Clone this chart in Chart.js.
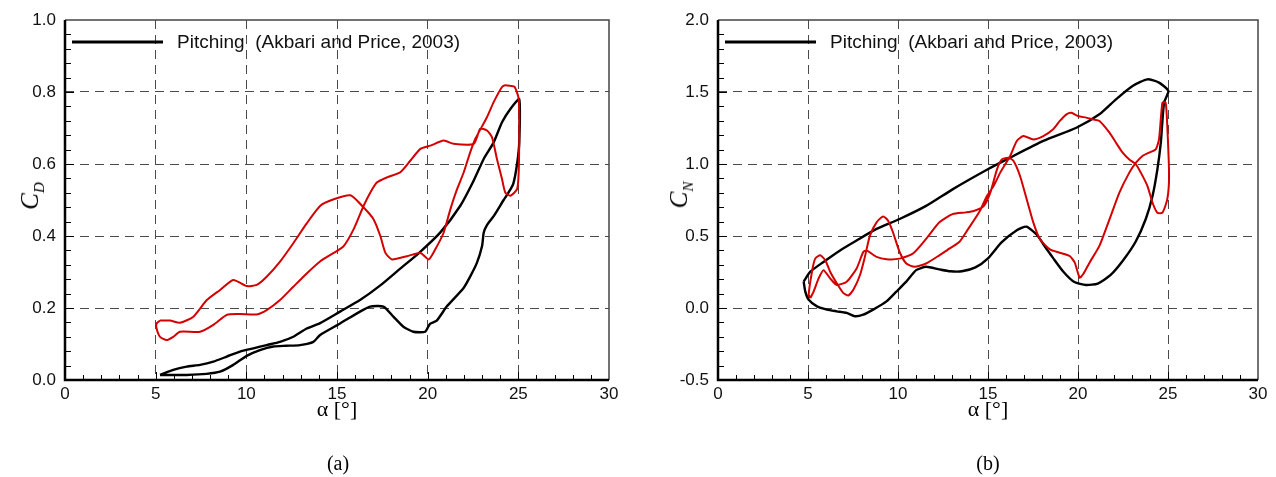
<!DOCTYPE html>
<html>
<head>
<meta charset="utf-8">
<script src="https://cdn.jsdelivr.net/npm/chart.js@4.4.1/dist/chart.umd.min.js"></script>
<style>
  body { margin: 0; background: #fff; width: 1276px; height: 477px; position: relative; overflow: hidden; }
  canvas { position: absolute; top: 0; }
  #cdChart { left: 0; }
  #cnChart { left: 638px; }
  .ytitle { position: absolute; font-family: "Liberation Serif", serif; font-style: italic; font-size: 25px;
            transform: translate(-50%, -50%) rotate(-90deg); white-space: nowrap; line-height: 1; }
  .ytitle sub { font-size: 15px; }
  .caption { position: absolute; top: 452px; font-family: "Liberation Serif", serif; font-size: 20px;
             transform: translateX(-50%); }
</style>
</head>
<body>
<canvas id="cdChart" width="638" height="477"></canvas>
<canvas id="cnChart" width="638" height="477"></canvas>
<div class="ytitle" style="left:32px; top:196px">C<sub>D</sub></div>
<div class="ytitle" style="left:681px; top:195px">C<sub>N</sub></div>
<div class="caption" style="left:338px">(a)</div>
<div class="caption" style="left:988px">(b)</div>
<script>
// tick values
var alphaTicks = [0, 5, 10, 15, 20, 25, 30];
var cdTicks = [0, 0.2, 0.4, 0.6, 0.8, 1.0];
var cnTicks = [-0.5, 0, 0.5, 1.0, 1.5, 2.0];
var legendText = "Pitching  (Akbari and Price, 2003)";
var xTitle = "\u03b1 [\u00b0]";

// (a) drag coefficient, Akbari and Price loop (black)
var cdPitchAlpha = [5.24, 5.97, 6.71, 7.45, 8.18, 8.92, 9.65, 10.39, 11.12, 11.86, 12.59, 13.33, 14.07, 15.17, 16.27,
  17.37, 18.5, 19.5, 20.7, 21.8, 22.5, 23.09, 23.64, 24.1, 24.56, 25.05, 25.05, 24.93, 24.72, 24.45, 24.19, 23.64,
  23.27, 23.09, 23.0, 22.72, 22.35, 21.97, 21.05, 20.5, 20.13, 19.86, 19.21, 18.66, 18.11, 17.56, 16.82, 16.27,
  15.17, 14.07, 13.7, 12.96, 12.2, 11.49, 10.75, 10.02, 9.28, 8.55, 7.8, 6.71, 5.97, 5.24];
var cdPitchValue = [0.014, 0.028, 0.037, 0.042, 0.051, 0.065, 0.079, 0.088, 0.097, 0.106, 0.12, 0.143, 0.158, 0.19,
  0.222, 0.262, 0.31, 0.352, 0.41, 0.484, 0.55, 0.614, 0.66, 0.716, 0.753, 0.78, 0.66, 0.6, 0.545, 0.52, 0.5, 0.455,
  0.43, 0.409, 0.372, 0.326, 0.288, 0.255, 0.204, 0.165, 0.156, 0.134, 0.134, 0.148, 0.176, 0.204, 0.204, 0.19,
  0.157, 0.125, 0.106, 0.097, 0.095, 0.093, 0.083, 0.067, 0.042, 0.023, 0.017, 0.014, 0.014, 0.014];

// (a) drag coefficient, present loop (red)
var cdRedAlpha = [5.24, 5.05, 5.05, 5.24, 5.61, 5.97, 6.34, 7.45, 8.18, 8.92, 9.65, 10.57, 11.12, 11.86, 12.59, 13.33,
  14.08, 14.82, 15.37, 15.92, 16.47, 16.84, 17.21, 17.76, 18.49, 19.04, 19.6, 20.15, 20.88, 21.43, 22.54, 22.9, 23.27,
  23.55, 23.82, 24.1, 24.28, 24.56, 24.93, 25.02, 25.05, 25.02, 24.8, 24.56, 24.28, 24.1, 23.64, 23.27, 22.63, 22.35,
  21.99, 21.62, 21.25, 20.88, 20.42, 20.06, 19.6, 18.86, 18.03, 17.67, 17.39, 17.02, 16.47, 15.74, 14.82, 14.08,
  13.33, 12.59, 11.86, 11.12, 10.57, 10.02, 9.28, 8.55, 7.82, 7.08, 6.34, 5.79, 5.24];
var cdRedValue = [0.165, 0.157, 0.143, 0.12, 0.111, 0.12, 0.134, 0.134, 0.153, 0.181, 0.183, 0.182, 0.194, 0.222,
  0.259, 0.296, 0.33, 0.353, 0.372, 0.419, 0.484, 0.521, 0.549, 0.563, 0.577, 0.609, 0.642, 0.651, 0.665, 0.656,
  0.656, 0.698, 0.693, 0.674, 0.614, 0.558, 0.521, 0.512, 0.53, 0.577, 0.698, 0.781, 0.814, 0.817, 0.819, 0.814,
  0.772, 0.73, 0.67, 0.633, 0.577, 0.53, 0.474, 0.409, 0.363, 0.335, 0.353, 0.344, 0.335, 0.353, 0.4, 0.446, 0.479,
  0.513, 0.502, 0.484, 0.435, 0.38, 0.329, 0.287, 0.264, 0.261, 0.278, 0.25, 0.222, 0.176, 0.159, 0.165, 0.165];

// (b) normal force coefficient, Akbari and Price loop (black)
var cnPitchAlpha = [4.76, 5.13, 5.86, 6.78, 7.7, 8.81, 10.09, 11.56, 13.03, 14.94, 16.23, 18.07, 19.91, 21.19, 22.11,
  23.03, 23.86, 24.5, 25.02, 24.78, 24.6, 24.41, 24.14, 23.77, 23.2, 22.5, 21.8, 21.1, 20.45, 19.8, 19.2, 18.6, 18.2,
  17.7, 17.13, 16.6, 15.75, 15.0, 14.3, 13.55, 12.9, 12.3, 11.56, 11.01, 10.46, 9.91, 9.36, 8.62, 8.07, 7.61, 7.15,
  6.6, 6.05, 5.5, 5.04, 4.85, 4.76];
var cnPitchValue = [0.183, 0.252, 0.32, 0.4, 0.469, 0.549, 0.618, 0.709, 0.824, 0.96, 1.044, 1.16, 1.252, 1.345,
  1.449, 1.542, 1.588, 1.565, 1.507, 1.426, 1.148, 0.963, 0.778, 0.62, 0.46, 0.33, 0.228, 0.17, 0.16, 0.18, 0.25,
  0.35, 0.42, 0.51, 0.565, 0.54, 0.455, 0.345, 0.282, 0.255, 0.255, 0.268, 0.286, 0.263, 0.183, 0.114, 0.046,
  -0.011, -0.046, -0.057, -0.034, -0.023, -0.011, 0.011, 0.057, 0.114, 0.183];

// (b) normal force coefficient, present loop (red)
var cnRedAlpha = [5.13, 5.31, 5.59, 5.86, 6.23, 6.6, 7.15, 7.7, 8.07, 8.25, 8.81, 9.36, 10.09, 10.83, 11.56, 12.3,
  13.03, 13.77, 14.21, 14.76, 15.13, 15.5, 15.77, 16.14, 16.42, 16.78, 17.15, 17.52, 17.89, 18.44, 18.99, 19.54,
  19.82, 20.09, 20.28, 20.64, 21.19, 21.75, 22.3, 22.85, 23.22, 23.58, 23.95, 24.32, 24.5, 24.69, 24.87, 24.96, 25.06,
  24.96, 24.69, 24.41, 24.14, 23.86, 23.49, 23.22, 22.85, 22.48, 22.11, 21.75, 21.19, 20.83, 20.46, 20.0, 19.63,
  19.36, 18.99, 18.62, 18.07, 17.52, 16.97, 16.6, 16.23, 15.68, 15.31, 14.94, 14.53, 13.8, 13.4, 12.85, 12.3, 11.56,
  10.92, 10.46, 10.09, 9.72, 9.45, 9.17, 8.81, 8.44, 8.16, 7.89, 7.52, 7.24, 6.97, 6.6, 6.23, 5.96, 5.68, 5.4, 5.22,
  5.04, 5.13];
var cnRedValue = [0.069, 0.114, 0.206, 0.263, 0.206, 0.16, 0.183, 0.275, 0.389, 0.4, 0.355, 0.339, 0.343, 0.378,
  0.48, 0.595, 0.652, 0.664, 0.674, 0.708, 0.801, 0.963, 1.032, 1.044, 1.021, 0.917, 0.755, 0.593, 0.477, 0.407,
  0.384, 0.361, 0.315, 0.211, 0.234, 0.315, 0.431, 0.616, 0.801, 0.94, 1.009, 1.056, 1.079, 1.102, 1.171, 1.426,
  1.426, 1.264, 0.917, 0.755, 0.662, 0.662, 0.731, 0.847, 0.94, 0.998, 1.032, 1.079, 1.148, 1.218, 1.299, 1.31,
  1.322, 1.333, 1.356, 1.345, 1.299, 1.241, 1.194, 1.171, 1.194, 1.16, 1.056, 0.94, 0.847, 0.778, 0.67, 0.53,
  0.458, 0.412, 0.366, 0.309, 0.286, 0.309, 0.389, 0.526, 0.606, 0.636, 0.595, 0.503, 0.355, 0.229, 0.126, 0.087,
  0.103, 0.172, 0.252, 0.332, 0.366, 0.343, 0.252, 0.092, 0.069];

function toPoints(xs, ys) {
  return xs.map(function(x, i) { return { x: x, y: ys[i] }; });
}

// frame, inward ticks and legend, drawn with the chart's own scales
var framePlugin = {
  id: "frame",
  afterDraw: function(chart, args, opts) {
    var ctx = chart.ctx, a = chart.chartArea;
    var xs = chart.scales.x, ys = chart.scales.y;
    var i, n, v, p;
    ctx.save();
    ctx.strokeStyle = "#000";
    ctx.lineWidth = 1;
    ctx.beginPath();
    n = Math.round((xs.max - xs.min) / opts.xMinor);
    for (i = 1; i < n; i++) {
      v = xs.min + i * opts.xMinor;
      p = Math.round(xs.getPixelForValue(v)) + 0.5;
      ctx.moveTo(p, a.bottom);
      ctx.lineTo(p, a.bottom - (i % 5 === 0 ? 8 : 5));
    }
    n = Math.round((ys.max - ys.min) / opts.yMinor);
    for (i = 1; i < n; i++) {
      v = ys.min + i * opts.yMinor;
      p = Math.round(ys.getPixelForValue(v)) + 0.5;
      ctx.moveTo(a.left, p);
      ctx.lineTo(a.left + (i % 5 === 0 ? 9 : 6), p);
    }
    ctx.stroke();

    ctx.strokeStyle = "#444";
    ctx.lineWidth = 1.5;
    ctx.beginPath();
    ctx.moveTo(a.left, a.top);
    ctx.lineTo(a.right, a.top);
    ctx.lineTo(a.right, a.bottom);
    ctx.stroke();

    ctx.strokeStyle = "#000";
    ctx.lineWidth = 2.5;
    ctx.beginPath();
    ctx.moveTo(a.left, a.top);
    ctx.lineTo(a.left, a.bottom);
    ctx.lineTo(a.right, a.bottom);
    ctx.stroke();

    // legend entry for the reference data set
    var ds = chart.data.datasets.filter(function(d) { return d.label; })[0];
    var ly = a.top + 22;
    ctx.strokeStyle = ds.borderColor;
    ctx.lineWidth = 3;
    ctx.beginPath();
    ctx.moveTo(a.left + 7, ly);
    ctx.lineTo(a.left + 98, ly);
    ctx.stroke();
    ctx.fillStyle = "#111";
    ctx.font = "19px 'Liberation Sans', Arial, sans-serif";
    ctx.textBaseline = "middle";
    ctx.textAlign = "left";
    ctx.fillText(ds.label, a.left + 112, ly + 1);
    ctx.restore();
  }
};

function makeChart(id, cfg) {
  var tickFont = { family: "'Liberation Sans', Arial, sans-serif", size: 17 };
  var gridColor = function(min, max) {
    return function(c) {
      if (!c.tick) return "#4a4a4a";
      return (Math.abs(c.tick.value - min) < 1e-9 || Math.abs(c.tick.value - max) < 1e-9) ? "rgba(0,0,0,0)" : "#4a4a4a";
    };
  };
  return new Chart(document.getElementById(id).getContext("2d"), {
    type: "scatter",
    data: {
      datasets: [{
        data: toPoints(cfg.redAlpha, cfg.redValue),
        showLine: true,
        borderColor: "#d40000",
        borderWidth: 2,
        pointRadius: 0,
        tension: 0.2
      }, {
        label: legendText,
        data: toPoints(cfg.blackAlpha, cfg.blackValue),
        showLine: true,
        borderColor: "#000",
        borderWidth: 2.4,
        pointRadius: 0,
        tension: 0.2
      }]
    },
    options: {
      responsive: false,
      animation: false,
      layout: { padding: { top: 20, right: cfg.padRight, bottom: 0, left: 0 } },
      plugins: {
        legend: { display: false },
        tooltip: { enabled: false },
        frame: { xMinor: 1, yMinor: cfg.yMinor }
      },
      scales: {
        x: {
          type: "linear",
          min: 0,
          max: 30,
          afterBuildTicks: function(s) { s.ticks = alphaTicks.map(function(v) { return { value: v }; }); },
          afterFit: function(s) { s.height = 97; },
          ticks: { font: tickFont, color: "#111", padding: 4, maxRotation: 0,
                   callback: function(v) { return String(v); } },
          grid: { color: gridColor(0, 30), lineWidth: 1, drawTicks: false },
          border: { display: false, dash: [9, 6] },
          title: { display: true, text: xTitle, color: "#000",
                   font: { family: "'Liberation Serif', serif", size: 22 },
                   padding: { top: 0, bottom: 54 } }
        },
        y: {
          type: "linear",
          min: cfg.yTicks[0],
          max: cfg.yTicks[cfg.yTicks.length - 1],
          afterBuildTicks: function(s) { s.ticks = cfg.yTicks.map(function(v) { return { value: v }; }); },
          afterFit: function(s) { s.width = cfg.yWidth; },
          ticks: { font: tickFont, color: "#111", padding: 9,
                   callback: function(v) { return Number(v).toFixed(1); } },
          grid: { color: gridColor(cfg.yTicks[0], cfg.yTicks[cfg.yTicks.length - 1]), lineWidth: 1, drawTicks: false },
          border: { display: false, dash: [9, 6] }
        }
      }
    },
    plugins: [framePlugin]
  });
}

makeChart("cdChart", {
  redAlpha: cdRedAlpha, redValue: cdRedValue,
  blackAlpha: cdPitchAlpha, blackValue: cdPitchValue,
  yTicks: cdTicks, yMinor: 0.04, yWidth: 65, padRight: 29
});
makeChart("cnChart", {
  redAlpha: cnRedAlpha, redValue: cnRedValue,
  blackAlpha: cnPitchAlpha, blackValue: cnPitchValue,
  yTicks: cnTicks, yMinor: 0.1, yWidth: 80, padRight: 18
});
</script>
</body>
</html>
